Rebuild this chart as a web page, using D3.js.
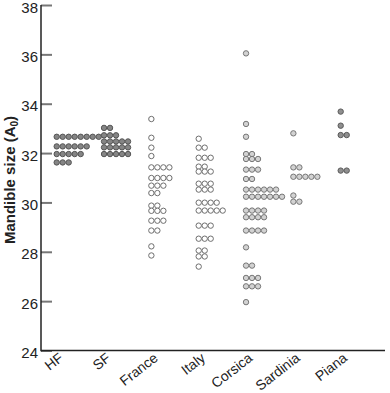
<!DOCTYPE html>
<html><head><meta charset="utf-8">
<script src="https://cdn.jsdelivr.net/npm/d3@7"></script>
<style>html,body{margin:0;padding:0;background:#fff;}svg{display:block;}</style>
</head><body>
<script>
const categories = ["HF","SF","France","Italy","Corsica","Sardinia","Piana"];
const yTicks = [24,26,28,30,32,34,36,38];
const hfValues = [32.66,32.66,32.66,32.66,32.66,32.66,32.66,32.66,
  32.27,32.27,32.27,32.27,32.27,32.27, 31.96,31.96,31.96,31.96,31.96, 31.62,31.62,31.62];
const sfValues = [33.02,33.02, 32.72,32.72,32.72, 32.47,32.47,32.47,32.47,32.47,
  32.23,32.23,32.23,32.23,32.23, 31.96,31.96,31.96,31.96,31.96];
const franceValues = [33.38,32.62,32.22,31.88, 31.42,31.42,31.42,31.42, 30.99,30.99,30.99,30.99,
  30.68,30.68,30.68, 30.38,30.38, 29.87,29.87, 29.66,29.66,29.66, 29.26,29.26,29.26, 28.86,28.86, 28.22, 27.85];
const italyValues = [32.58, 32.22,32.22, 31.81,31.81,31.81, 31.45,31.45, 31.25,31.25,31.25,
  30.76,30.76,30.76, 30.52,30.52,30.52, 29.99,29.99,29.99,29.99, 29.67,29.67,29.67,29.67,29.67,
  29.06,29.06,29.06, 28.53,28.53,28.53, 28.05,28.05, 27.81,27.81, 27.40];
const corsicaValues = [36.04, 33.18, 32.66, 31.96,31.96, 31.76,31.76,31.76, 31.33,31.33,31.33, 30.95,30.95,
  30.52,30.52,30.52,30.52,30.52,30.52, 30.23,30.23,30.23,30.23,30.23,30.23,30.23,
  29.67,29.67,29.67,29.67, 29.40,29.40,29.40,29.40, 28.86,28.86,28.86,28.86, 28.18,
  27.44,27.44, 26.94,26.94,26.94, 26.60,26.60,26.60, 25.96];
const sardiniaValues = [32.80, 31.42,31.42, 31.04,31.04,31.04,31.04,31.04, 30.28, 30.03,30.03];
const pianaValues = [33.68, 33.11, 32.73,32.73, 31.29,31.29];
const groupValues = [hfValues, sfValues, franceValues, italyValues, corsicaValues, sardiniaValues, pianaValues];
const groupFill = ["#858585","#858585","#ffffff","#ffffff","#d2d2d2","#d2d2d2","#8f8f8f"];
const groupStroke = ["#555555","#555555","#6e6e6e","#6e6e6e","#777777","#777777","#5a5a5a"];

const W = 390, H = 393;
const svg = d3.select("body").append("svg").attr("width", W).attr("height", H);

const y = d3.scaleLinear().domain([24, 38]).range([350.5, 5]);
const x = d3.scalePoint().domain(categories).range([54, 338]);
const axisLeft = 41, axisRight = 385;
const pitch = 6, r = 2.7;

// dots
groupValues.forEach((vals, gi) => {
  const rows = d3.rollups(vals, v => v.length, v => v);
  const dots = [];
  rows.forEach(([val, n]) => { for (let i = 0; i < n; i++) dots.push({val, i}); });
  svg.append("g").selectAll("circle").data(dots).join("circle")
    .attr("cx", d => x(categories[gi]) + r + d.i * pitch)
    .attr("cy", d => y(d.val))
    .attr("r", r)
    .attr("fill", groupFill[gi])
    .attr("stroke", groupStroke[gi])
    .attr("stroke-width", 1);
});

// y axis
const yAxis = svg.append("g").attr("transform", `translate(${axisLeft},0)`)
  .call(d3.axisRight(y).tickValues(yTicks).tickSize(11).tickFormat(""));
yAxis.select(".domain").remove();
yAxis.selectAll(".tick line").attr("stroke", "#777").attr("stroke-width", 2);
svg.append("g").selectAll("text").data(yTicks).join("text")
  .attr("x", axisLeft - 3).attr("y", d => y(d)).attr("dy", "0.5em")
  .attr("text-anchor", "end")
  .attr("font-family", "Liberation Sans, Arial, sans-serif").attr("font-size", 15)
  .attr("fill", "#222").text(d => d);

svg.append("line").attr("x1", axisLeft).attr("x2", axisLeft).attr("y1", 5).attr("y2", 351.25)
  .attr("stroke", "#222").attr("stroke-width", 1.5);
svg.append("line").attr("x1", axisLeft).attr("x2", axisRight).attr("y1", 350.5).attr("y2", 350.5)
  .attr("stroke", "#222").attr("stroke-width", 1.5);

// x labels
svg.append("g").selectAll("text").data(categories).join("text")
  .attr("transform", d => `translate(${x(d) + 5},${353}) rotate(-38)`)
  .attr("text-anchor", "end").attr("dy", "0.6em")
  .attr("font-family", "Liberation Sans, Arial, sans-serif").attr("font-size", 14)
  .attr("fill", "#222").text(d => d);

// y label
const yl = svg.append("text")
  .attr("transform", `translate(15,180) rotate(-90)`)
  .attr("text-anchor", "middle")
  .attr("font-family", "Liberation Sans, Arial, sans-serif").attr("font-size", 15)
  .attr("font-weight", "bold").attr("fill", "#222");
yl.append("tspan").text("Mandible size (A");
yl.append("tspan").attr("font-size", 10).attr("dy", 3).text("0");
yl.append("tspan").attr("dy", -3).text(")");
</script>
</body></html>
